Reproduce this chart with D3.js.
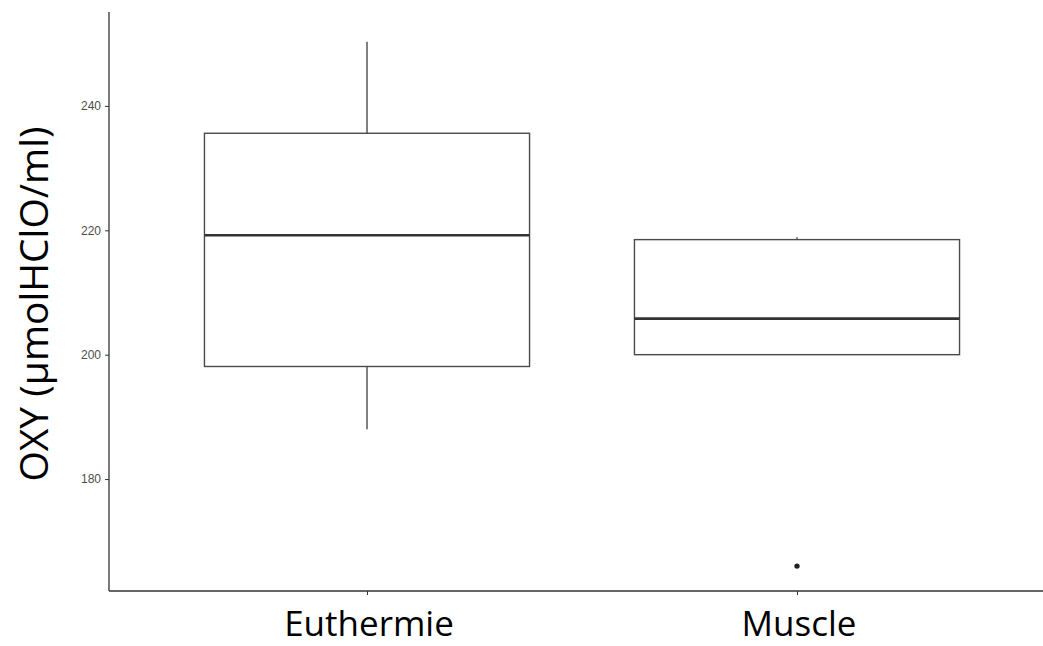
<!DOCTYPE html>
<html>
<head>
<meta charset="utf-8">
<script src="https://cdn.jsdelivr.net/npm/d3@7"></script>
<style>
  html, body { margin: 0; padding: 0; background: #fff; }
  svg { display: block; }
</style>
</head>
<body>
<script>
// Box-plot summaries per group
const categories = ["Euthermie", "Muscle"];
const whiskerLow  = [188.0, 200.0];
const q1          = [198.1, 200.0];
const medians     = [219.2, 205.8];
const q3          = [235.6, 218.5];
const whiskerHigh = [250.3, 218.9];
const outliers    = [[], [166.0]];
const yTicks = [180, 200, 220, 240];

const W = 1043, H = 646;
const svg = d3.select("body").append("svg").attr("width", W).attr("height", H);

const plotLeft = 109, plotBottom = 591, plotTop = 12;

// discrete axis: positions 1..n with 0.6 expansion on each side
const x = d3.scaleLinear().domain([0.4, categories.length + 0.6]).range([plotLeft, 1055]);
const y = d3.scaleLinear().domain([162.0, 255.1]).range([plotBottom, plotTop]);

const boxHalf = 0.378;
const stroke = "#4a4a4a";

// axes
const yAxis = svg.append("g").attr("transform", `translate(${plotLeft},0)`)
  .call(d3.axisLeft(y).tickValues(yTicks).tickSize(4).tickPadding(4));
yAxis.select(".domain").attr("d", `M0,${plotTop}V${plotBottom}`).attr("stroke", "#333").attr("stroke-width", 1.3);
yAxis.selectAll(".tick line").attr("stroke", "#333");
yAxis.selectAll(".tick text").attr("fill", "#4d4d4d").attr("font-size", 12)
  .attr("font-family", "Liberation Sans, Arial, sans-serif");

const xAxis = svg.append("g").attr("transform", `translate(0,${plotBottom})`)
  .call(d3.axisBottom(x).tickValues(categories.map((_, i) => i + 1)).tickSize(4).tickFormat(""));
xAxis.select(".domain").attr("d", `M${plotLeft},0H${W}`).attr("stroke", "#333").attr("stroke-width", 1.3);
xAxis.selectAll(".tick line").attr("stroke", "#333");

// category labels
svg.append("g").selectAll("text").data(categories).join("text")
  .attr("x", (d, i) => x(i + 1) + 2)
  .attr("y", 636)
  .attr("text-anchor", "middle")
  .attr("font-family", "Open Sans, sans-serif")
  .attr("font-size", 35)
  .attr("fill", "#000")
  .text(d => d);

// y axis title
svg.append("text")
  .attr("transform", `translate(48,${304}) rotate(-90)`)
  .attr("text-anchor", "middle")
  .attr("font-family", "Open Sans, sans-serif")
  .attr("font-size", 39)
  .attr("fill", "#000")
  .text("OXY (µmolHClO/ml)");

// boxes
const g = svg.append("g");
categories.forEach((c, i) => {
  const cx = x(i + 1);
  const x0 = x(i + 1 - boxHalf), x1 = x(i + 1 + boxHalf);
  // whiskers
  g.append("line").attr("x1", cx).attr("x2", cx)
    .attr("y1", y(whiskerHigh[i])).attr("y2", y(q3[i]))
    .attr("stroke", stroke).attr("stroke-width", 1.4);
  g.append("line").attr("x1", cx).attr("x2", cx)
    .attr("y1", y(q1[i])).attr("y2", y(whiskerLow[i]))
    .attr("stroke", stroke).attr("stroke-width", 1.4);
  // box
  g.append("rect").attr("x", x0).attr("y", y(q3[i]))
    .attr("width", x1 - x0).attr("height", y(q1[i]) - y(q3[i]))
    .attr("fill", "#fff").attr("stroke", stroke).attr("stroke-width", 1.4);
  // median
  g.append("line").attr("x1", x0).attr("x2", x1)
    .attr("y1", y(medians[i])).attr("y2", y(medians[i]))
    .attr("stroke", "#333").attr("stroke-width", 2.6);
  // outliers
  outliers[i].forEach(v => {
    g.append("circle").attr("cx", cx).attr("cy", y(v)).attr("r", 2.7).attr("fill", "#222");
  });
});
</script>
</body>
</html>
